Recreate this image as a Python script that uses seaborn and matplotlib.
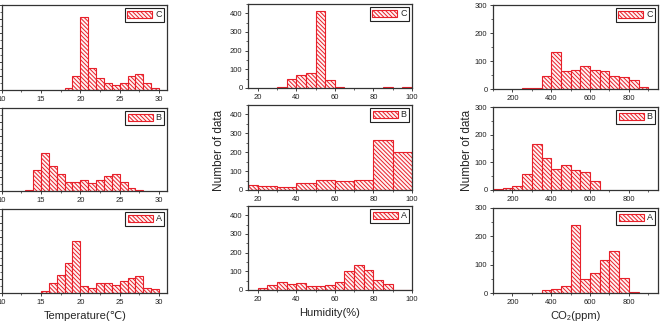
import numpy as np
import pandas as pd
import matplotlib
matplotlib.use("Agg")
import matplotlib.pyplot as plt
from matplotlib.patches import Patch
from matplotlib.ticker import MultipleLocator
import seaborn as sns

sns.set_style("ticks")
plt.rcParams['font.family'] = ['Liberation Sans', 'DejaVu Sans']
plt.rcParams['hatch.linewidth'] = 0.7

# ---- data (bin left edges and counts) ----
temp_edges = list(range(13, 31))
temp_C = [0, 0, 0, 0, 0, 6, 49, 256, 76, 41, 26, 16, 26, 48, 55, 24, 7]
temp_B = [5, 75, 136, 90, 60, 32, 32, 39, 29, 39, 56, 60, 33, 12, 4, 0, 0]
temp_A = [0, 0, 7, 36, 66, 108, 184, 26, 18, 36, 34, 30, 43, 52, 62, 19, 13]

hum_edges_C = list(range(30, 105, 5))
hum_C = [3, 50, 72, 81, 413, 41, 3, 0, 0, 0, 0, 3, 0, 3]
hum_edges_B = list(range(10, 110, 10))
hum_B = [27, 22, 14, 39, 54, 47, 54, 265, 199]
hum_edges_A = list(range(20, 105, 5))
hum_A = [11, 27, 41, 30, 36, 20, 20, 27, 43, 102, 135, 109, 54, 30, 2, 2]

co2_edges_C = list(range(250, 950, 50))
co2_C = [2, 2, 46, 131, 64, 67, 82, 67, 64, 46, 43, 31, 7]
co2_edges_B = list(range(100, 700, 50))
co2_B = [4, 8, 16, 58, 167, 114, 76, 91, 71, 65, 32]
co2_edges_A = list(range(350, 900, 50))
co2_A = [11, 14, 23, 241, 49, 70, 116, 149, 52, 4]

labels = ["C", "B", "A"]

W, H = 664, 332
fig = plt.figure(figsize=(W / 100, H / 100), dpi=100)

def box(x0, x1, y0, y1):
    return [x0 / W, 1 - y1 / H, (x1 - x0) / W, (y1 - y0) / H]

RED = "#e8202a"
HATCH = "\\" * 8

def draw(pos, edges, counts, label, xlim, ylim, xmaj, xmin, ymaj, ymin, show_ylabels=True):
    ax = fig.add_axes(pos)
    e = [float(v) for v in edges]
    centers = [(a + b) / 2 for a, b in zip(e[:-1], e[1:])]
    df = pd.DataFrame({"x": centers, "n": [float(c) for c in counts]})
    sns.histplot(data=df, x="x", weights="n", bins=e, ax=ax,
                 stat="count", element="bars", fill=True,
                 facecolor="#fff4f4", edgecolor=RED, linewidth=0.8,
                 hatch=HATCH, alpha=1)
    for p in list(ax.patches):
        if p.get_height() == 0:
            p.remove()
    ax.set_xlim(*xlim)
    ax.set_ylim(*ylim)
    ax.xaxis.set_major_locator(MultipleLocator(xmaj))
    ax.xaxis.set_minor_locator(MultipleLocator(xmin))
    ax.yaxis.set_major_locator(MultipleLocator(ymaj))
    ax.yaxis.set_minor_locator(MultipleLocator(ymin))
    ax.tick_params(axis="both", which="major", direction="out", length=2.5,
                   width=0.6, labelsize=5.5, pad=1.5, colors="#222222")
    ax.tick_params(axis="both", which="minor", direction="out", length=1.5, width=0.5)
    if not show_ylabels:
        ax.tick_params(axis="y", labelleft=False)
    for s in ax.spines.values():
        s.set_visible(True)
        s.set_linewidth(0.9)
        s.set_color("#333333")
    ax.set_xlabel("")
    ax.set_ylabel("")
    h = Patch(facecolor="#fff4f4", edgecolor=RED, hatch=HATCH, linewidth=0.8)
    leg = ax.legend([h], [label], loc="upper right", fontsize=6.5,
                    handlelength=2.8, handleheight=0.9, handletextpad=0.3,
                    borderpad=0.25, borderaxespad=0.35, fancybox=False,
                    framealpha=1, edgecolor="#222222")
    leg.get_frame().set_linewidth(0.8)
    return ax

# left column: temperature
rows_L = [(5, 90), (108, 191), (209, 293)]
for (y0, y1), cnt, lab in zip(rows_L, [temp_C, temp_B, temp_A], labels):
    draw(box(1.5, 167, y0, y1), temp_edges, cnt, lab, (10, 31), (0, 300),
         5, 2.5, 50, 25, show_ylabels=False)

# middle column: humidity
rows_M = [(4, 88), (105, 190), (206, 290)]
hum_data = [(hum_edges_C, hum_C), (hum_edges_B, hum_B), (hum_edges_A, hum_A)]
for (y0, y1), (ed, cnt), lab in zip(rows_M, hum_data, labels):
    draw(box(248, 412, y0, y1), ed, cnt, lab, (15, 100), (0, 450),
         20, 10, 100, 50)

# right column: CO2
rows_R = [(5, 89), (107, 190), (208, 293)]
co2_data = [(co2_edges_C, co2_C), (co2_edges_B, co2_B), (co2_edges_A, co2_A)]
for (y0, y1), (ed, cnt), lab in zip(rows_R, co2_data, labels):
    draw(box(493, 658, y0, y1), ed, cnt, lab, (100, 950), (0, 300),
         200, 100, 100, 50)

# axis titles
fig.text(85 / W, 1 - 316 / H, "Temperature(\u2103)", ha="center", va="center", fontsize=8)
fig.text(330 / W, 1 - 313 / H, "Humidity(%)", ha="center", va="center", fontsize=8)
fig.text(576 / W, 1 - 316 / H, "CO\u2082(ppm)", ha="center", va="center", fontsize=8)
fig.text(219 / W, 1 - 150 / H, "Number of data", ha="center", va="center",
         rotation=90, fontsize=8.5)
fig.text(467 / W, 1 - 150 / H, "Number of data", ha="center", va="center",
         rotation=90, fontsize=8.5)

fig.savefig("out.png", dpi=100)
